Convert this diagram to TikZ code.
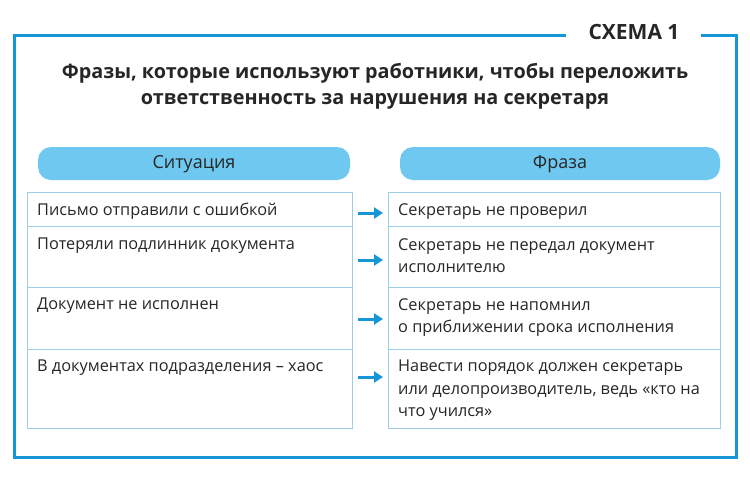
\documentclass[tikz,border=0pt]{standalone}
\usepackage{fontspec}
\setmainfont{Open Sans}
\usetikzlibrary{arrows.meta}
\begin{document}
\begin{tikzpicture}[x=1pt,y=-1pt]
\useasboundingbox (0,0) rectangle (750,480);
\definecolor{fr}{RGB}{20,150,215}
\definecolor{pl}{RGB}{110,200,240}
\definecolor{ce}{RGB}{160,205,230}
\tikzset{frame/.style={draw=fr, line width=3pt}, pill/.style={fill=pl, rounded corners=13pt}, cell/.style={draw=ce, line width=0.8pt},
  arr/.style={-{Triangle[length=9pt,width=11pt]}, draw=fr, line width=3pt},
  txt/.style={anchor=north west, align=left, inner sep=0pt, font=\fontsize{16.3}{22.5}\selectfont, text=black!85}}
\draw[frame] (566,35) -- (14,35) -- (14,457) -- (736,457) -- (736,35) -- (701,35);
\node[font=\fontsize{21}{24}\selectfont\bfseries, text=black!85] (sch) at (634,32) {СХЕМА 1};
\node[font=\fontsize{19.8}{26}\selectfont\bfseries, text=black!85, align=center] (title) at (375,86) {Фразы, которые используют работники, чтобы переложить\\ответственность за нарушения на секретаря};
\fill[pill] (38,147) rectangle (350,180);
\node[font=\fontsize{18}{20}\selectfont, text=black!85] (h1) at (194,164) {Ситуация};
\fill[pill] (400,147) rectangle (720,180);
\node[font=\fontsize{18}{20}\selectfont, text=black!85] (h2) at (560,164) {Фраза};
\foreach \a/\b in {192/226,226/287,287/349,349/428}{
  \draw[cell] (27,\a) rectangle (352,\b);
  \draw[cell] (388,\a) rectangle (720,\b);
}
\node[txt] (l1) at (37,203) {Письмо отправили с ошибкой};
\node[txt] (l2) at (37,238) {Потеряли подлинник документа};
\node[txt] (l3) at (37,298) {Документ не исполнен};
\node[txt] (l4) at (37,360) {В документах подразделения – хаос};
\node[txt] (r1) at (398,203) {Секретарь не проверил};
\node[txt] (r2) at (398,238) {Секретарь не передал документ\\исполнителю};
\node[txt] (r3) at (398,298) {Секретарь не напомнил\\о приближении срока исполнения};
\node[txt] (r4) at (398,360) {Навести порядок должен секретарь\\или делопроизводитель, ведь «кто на\\что учился»};
\coordinate (a1) at (358,213); \coordinate (b1) at (383,213);
\coordinate (a2) at (358,260); \coordinate (b2) at (383,260);
\coordinate (a3) at (358,319); \coordinate (b3) at (383,319);
\coordinate (a4) at (358,377); \coordinate (b4) at (383,377);
\foreach \i in {1,2,3,4} \draw[arr] (a\i) -- (b\i);
\end{tikzpicture}
\end{document}
